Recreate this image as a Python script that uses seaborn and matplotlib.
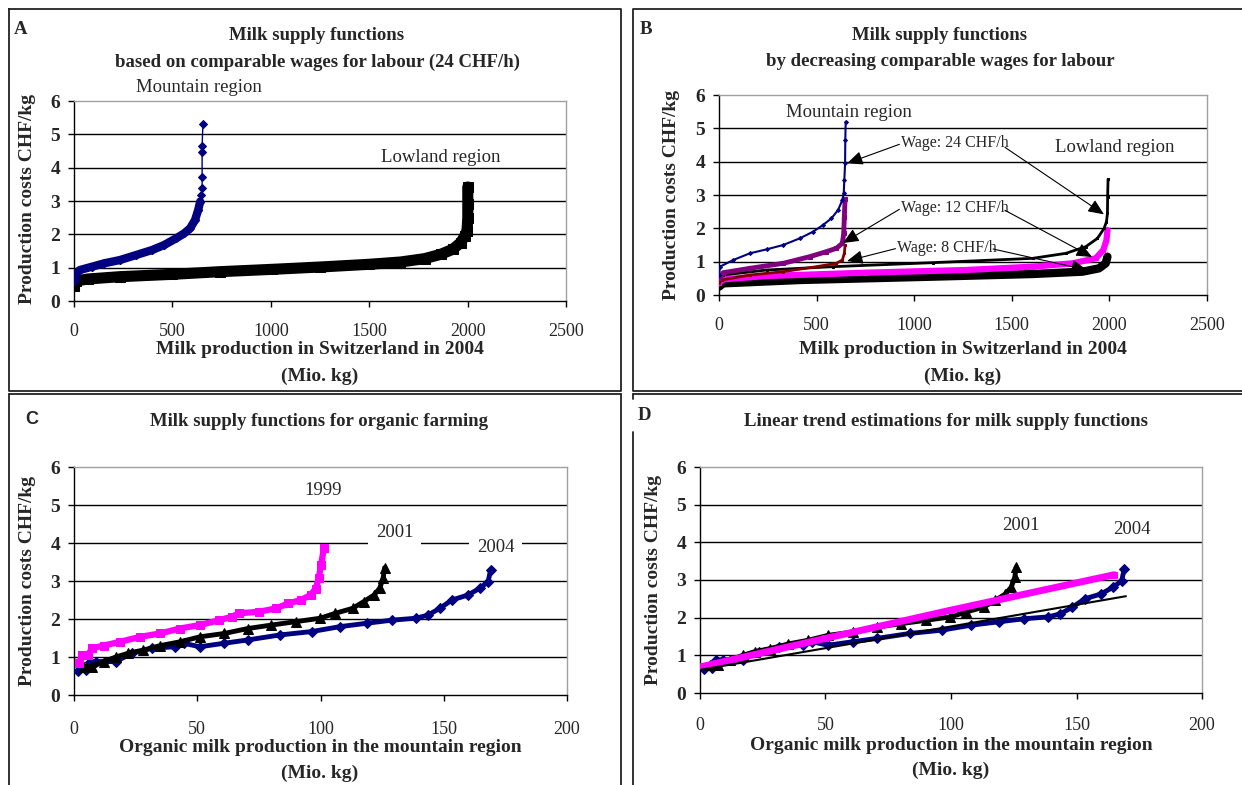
"""Milk supply functions, 4 panels (A-D), rebuilt with seaborn."""
import matplotlib
matplotlib.use("Agg")
import matplotlib.pyplot as plt
from matplotlib.lines import Line2D
import seaborn as sns

# ---------------- data ----------------
# A: wage 24 CHF/h
a_mountain_x = [0, 4, 10, 30, 92, 153, 234, 316, 397, 458, 519, 560, 590, 615, 631, 641, 647, 651, 651, 651, 651, 655]
a_mountain_y = [0.6, 0.7, 0.83, 0.93, 1.03, 1.13, 1.23, 1.38, 1.53, 1.68, 1.88, 2.03, 2.18, 2.43, 2.73, 2.98, 3.18, 3.38, 3.73, 4.48, 4.65, 5.3]
a_lowland_x = [0, 10, 71, 234, 499, 743, 1008, 1252, 1497, 1659, 1781, 1863, 1924, 1965, 1985, 1997, 2001, 2001, 2001]
a_lowland_y = [0.45, 0.6, 0.66, 0.73, 0.8, 0.88, 0.95, 1.02, 1.1, 1.17, 1.27, 1.4, 1.55, 1.75, 1.95, 2.1, 2.5, 2.9, 3.42]

# B: decreasing wages
b_mtn24_x = [0, 5, 73, 158, 244, 329, 414, 482, 533, 576, 610, 632, 639, 642, 646, 647, 649]
b_mtn24_y = [0.6, 0.85, 1.05, 1.25, 1.37, 1.5, 1.7, 1.9, 2.1, 2.3, 2.55, 2.85, 3.05, 3.45, 3.95, 4.65, 5.2]
b_mtn12_x = [0, 22, 158, 329, 465, 550, 601, 632, 639, 642, 646]
b_mtn12_y = [0.5, 0.67, 0.8, 0.95, 1.15, 1.3, 1.4, 1.55, 1.85, 2.35, 2.87]
b_mtn8_x = [0, 14, 158, 329, 499, 601, 632, 642, 646]
b_mtn8_y = [0.35, 0.45, 0.6, 0.7, 0.85, 0.95, 1.05, 1.25, 1.5]
b_low24_x = [0, 22, 244, 584, 1095, 1607, 1777, 1879, 1939, 1973, 1985, 1990, 1991, 1993]
b_low24_y = [0.45, 0.6, 0.75, 0.85, 0.97, 1.1, 1.25, 1.45, 1.7, 2.0, 2.2, 2.45, 2.95, 3.47]
b_low12_x = [0, 22, 244, 755, 1266, 1607, 1811, 1930, 1969, 1985, 1990]
b_low12_y = [0.35, 0.47, 0.57, 0.67, 0.75, 0.85, 0.95, 1.1, 1.35, 1.65, 1.95]
b_low8_x = [0, 22, 414, 1095, 1607, 1862, 1947, 1981, 1990]
b_low8_y = [0.25, 0.35, 0.45, 0.55, 0.63, 0.7, 0.8, 0.95, 1.15]

# C / D: organic farming, mountain region
org1999_x = [2.1, 3.2, 5.7, 7.3, 12, 18.7, 26.8, 35, 43, 51, 59, 64, 67, 75, 82, 87, 92, 96, 98, 99.3, 100.2, 101.4]
org1999_y = [0.83, 1.05, 1.05, 1.23, 1.3, 1.4, 1.53, 1.62, 1.75, 1.84, 1.97, 2.06, 2.15, 2.19, 2.28, 2.41, 2.5, 2.63, 2.8, 3.07, 3.42, 3.86]
org2001_x = [4, 7.3, 12, 17, 22, 28, 35, 43, 51, 61, 70.6, 80, 90, 99.8, 106, 113, 117.6, 121.7, 124, 125.4, 126]
org2001_y = [0.75, 0.75, 0.88, 1.0, 1.1, 1.18, 1.3, 1.4, 1.53, 1.62, 1.75, 1.84, 1.93, 2.02, 2.15, 2.28, 2.46, 2.63, 2.81, 3.07, 3.35]
org2004_x = [1.6, 4.9, 6.5, 9, 17, 23.5, 31.6, 41, 44.6, 51, 60.8, 70.6, 83.5, 96.5, 108, 119, 129, 138.7, 143.5, 148.4, 153.3, 159.8, 164.6, 168, 169]
org2004_y = [0.64, 0.66, 0.88, 0.88, 0.88, 1.1, 1.23, 1.27, 1.36, 1.27, 1.36, 1.45, 1.58, 1.67, 1.8, 1.89, 1.97, 2.02, 2.1, 2.28, 2.5, 2.63, 2.81, 2.98, 3.29]
trend_a_x = [1.3, 50, 100, 165]
trend_a_y = [0.71, 1.45, 2.2, 3.14]
trend_b_x = [0.5, 169.7]
trend_b_y = [0.62, 2.57]

NAVY = "#000080"
MAGENTA = "#FF00FF"
PURPLE = "#800080"
DARKRED = "#800000"

sns.set_theme(style="white")
plt.rcParams["font.family"] = ["Liberation Serif", "DejaVu Serif"]

W, H = 1242, 785
fig = plt.figure(figsize=(W / 100, H / 100), dpi=100)


def px_box(x0, x1, ytop, ybot):
    return [x0 / W, 1 - ybot / H, (x1 - x0) / W, (ybot - ytop) / H]


def fig_line(xs, ys, lw=1.3, color="#222222"):
    fig.add_artist(Line2D([x / W for x in xs], [1 - y / H for y in ys], lw=lw, color=color))


def style_axes(ax, xmax, xstep, xpad):
    ax.set_xlim(0, xmax)
    ax.set_ylim(0, 6)
    ax.set_xticks(range(0, xmax + 1, xstep))
    ax.set_yticks(range(0, 7))
    for y in range(1, 6):
        ax.axhline(y, color="black", lw=1.0, zorder=1)
    for s in ["top", "right"]:
        ax.spines[s].set_color("#a0a0a0")
        ax.spines[s].set_linewidth(1.0)
    for s in ["left", "bottom"]:
        ax.spines[s].set_color("black")
        ax.spines[s].set_linewidth(1.0)
    ax.tick_params(axis="x", direction="out", length=4, width=1, color="black",
                   pad=xpad, labelsize=13, bottom=True)
    ax.tick_params(axis="y", direction="out", length=4, width=1, color="black",
                   pad=6, labelsize=14, left=True)
    for lab in ax.get_yticklabels():
        lab.set_fontweight("bold")
    ax.set_xlabel("")
    ax.set_ylabel("")


def series(ax, x, y, color, marker, ms, lw):
    sns.lineplot(x=x, y=y, ax=ax, color=color, marker=marker, markersize=ms,
                 markeredgecolor=color, markerfacecolor=color, linewidth=lw,
                 estimator=None, sort=False, errorbar=None, zorder=3)


# ---------------- Panel A ----------------
axA = fig.add_axes(px_box(74, 566, 101, 301))
series(axA, a_lowland_x, a_lowland_y, "black", "s", 7, 8)
series(axA, a_mountain_x, a_mountain_y, NAVY, "D", 4.5, 1)
series(axA, a_mountain_x[:-6], a_mountain_y[:-6], NAVY, "D", 4.5, 6)
style_axes(axA, 2500, 500, 12)
axA.text(636, 6.39, "Mountain region", ha="center", va="center", fontsize=13.5, clip_on=False)
axA.text(1864, 4.31, "Lowland region", ha="center", va="center", fontsize=13.5)

# ---------------- Panel B ----------------
axB = fig.add_axes(px_box(719, 1207, 95, 295))
series(axB, b_low8_x, b_low8_y, "black", "s", 3, 6)
series(axB, b_low12_x, b_low12_y, MAGENTA, "s", 3, 4.5)
series(axB, b_low24_x, b_low24_y, "black", "s", 2, 2)
series(axB, b_mtn8_x, b_mtn8_y, DARKRED, "s", 2, 2)
series(axB, b_mtn12_x, b_mtn12_y, PURPLE, "s", 2.5, 3.5)
series(axB, b_mtn24_x, b_mtn24_y, NAVY, "D", 2, 1.5)
style_axes(axB, 2500, 500, 12)
axB.text(666, 5.48, "Mountain region", ha="center", va="center", fontsize=13.5)
axB.text(2029, 4.43, "Lowland region", ha="center", va="center", fontsize=13.5)
arrow = dict(arrowstyle="-|>,head_length=0.8,head_width=0.35", color="black", lw=0.8,
             shrinkA=0, shrinkB=0)
wage_labels = ["Wage: 24 CHF/h", "Wage: 12 CHF/h", "Wage: 8 CHF/h"]
wage_text_pos = [(932, 4.55), (932, 2.6), (912, 1.42)]
wage_left_tip = [(656, 3.95), (635, 1.56), (656, 1.02)]
wage_right_start = [(1465, 4.43), (1465, 2.54), (1404, 1.38)]
wage_right_tip = [(1972, 2.42), (1911, 1.14), (1885, 0.75)]
for lab, tp, lt, rs, rt in zip(wage_labels, wage_text_pos, wage_left_tip,
                               wage_right_start, wage_right_tip):
    axB.text(tp[0], tp[1], lab, ha="left", va="center", fontsize=11.5, zorder=5)
    axB.annotate("", xy=lt, xytext=(tp[0] - 8, tp[1] - 0.03), arrowprops=arrow, zorder=5)
    axB.annotate("", xy=rt, xytext=rs, arrowprops=arrow, zorder=5)

# ---------------- Panel C ----------------
axC = fig.add_axes(px_box(74, 567, 467, 695))
series(axC, org2004_x, org2004_y, NAVY, "D", 5.5, 3.5)
series(axC, org2001_x, org2001_y, "black", "^", 6.5, 3.5)
series(axC, org1999_x, org1999_y, MAGENTA, "s", 5.5, 4.5)
style_axes(axC, 200, 50, 15)
white = dict(facecolor="white", edgecolor="none", boxstyle="square,pad=0.4")
axC.text(101, 5.37, "1999", ha="center", va="center", fontsize=13.5)
axC.text(130, 4.27, "2001", ha="center", va="center", fontsize=13.5, bbox=white, zorder=4)
axC.text(171, 3.88, "2004", ha="center", va="center", fontsize=13.5, bbox=white, zorder=4)

# ---------------- Panel D ----------------
axD = fig.add_axes(px_box(700, 1202, 467, 693))
series(axD, org2004_x, org2004_y, NAVY, "D", 5.5, 3.5)
series(axD, org2001_x, org2001_y, "black", "^", 6.5, 3.5)
series(axD, trend_a_x, trend_a_y, MAGENTA, "s", 4, 5)
series(axD, trend_b_x, trend_b_y, "black", None, 0, 1.5)
style_axes(axD, 200, 50, 13)
axD.text(128, 4.44, "2001", ha="center", va="center", fontsize=13.5)
axD.text(172, 4.34, "2004", ha="center", va="center", fontsize=13.5)

# ---------------- titles, axis labels, panel letters ----------------
tkw = dict(ha="center", va="center", fontsize=13.5, fontweight="bold")
fig.text(317 / W, 1 - 35 / H, "Milk supply functions", **tkw)
fig.text(317 / W, 1 - 62 / H, "based on comparable wages for labour (24 CHF/h)", **tkw)
fig.text(940 / W, 1 - 35 / H, "Milk supply functions", **tkw)
fig.text(940 / W, 1 - 62 / H, "by decreasing comparable wages for labour", **tkw)
fig.text(319 / W, 1 - 421 / H, "Milk supply functions for organic farming", **tkw)
fig.text(946 / W, 1 - 421 / H, "Linear trend estimations for milk supply functions", **tkw)

lkw = dict(ha="center", va="center", fontsize=14, fontweight="bold")
fig.text(320 / W, 1 - 350 / H, "Milk production in Switzerland in 2004", **lkw)
fig.text(320 / W, 1 - 376 / H, "(Mio. kg)", **lkw)
fig.text(963 / W, 1 - 350 / H, "Milk production in Switzerland in 2004", **lkw)
fig.text(963 / W, 1 - 376 / H, "(Mio. kg)", **lkw)
fig.text(320 / W, 1 - 748 / H, "Organic milk production in the mountain region", **lkw)
fig.text(320 / W, 1 - 773 / H, "(Mio. kg)", **lkw)
fig.text(951 / W, 1 - 745 / H, "Organic milk production in the mountain region", **lkw)
fig.text(951 / W, 1 - 770 / H, "(Mio. kg)", **lkw)

for xc, yc in [(28, 199), (672, 195), (28, 581), (653, 580)]:
    fig.text(xc / W, 1 - yc / H, "Production costs CHF/kg", rotation=90, **lkw)

fig.text(21 / W, 1 - 30 / H, "A", ha="center", va="center", fontsize=13.5, fontweight="bold")
fig.text(646 / W, 1 - 30 / H, "B", ha="center", va="center", fontsize=13.5, fontweight="bold")
fig.text(32 / W, 1 - 420 / H, "C", ha="center", va="center", fontsize=13, fontweight="bold",
         family=["Liberation Sans", "DejaVu Sans"])
fig.text(644 / W, 1 - 415 / H, "D", ha="center", va="center", fontsize=13.5, fontweight="bold")

# ---------------- panel frames ----------------
fig_line([8.5, 621, 621, 8.5, 8.5], [9, 9, 390.5, 390.5, 9])
fig_line([1242, 633, 633, 1242], [9, 9, 390.5, 390.5])
fig_line([8.5, 621], [393.5, 393.5])
fig_line([633, 1242], [393.5, 393.5])
fig_line([8.5, 8.5], [393.5, 785])
fig_line([621, 621], [393.5, 785])
fig_line([633, 633], [393.5, 399])
fig_line([633, 633], [432, 785])

fig.savefig("out.png", dpi=100)
